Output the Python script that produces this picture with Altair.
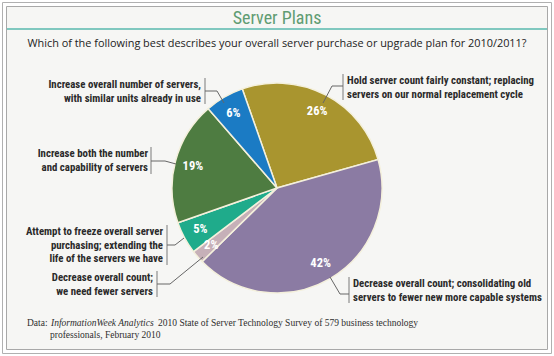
import math
import altair as alt
import pandas as pd

# ---------------- data ----------------
categories = [
    "Hold server count fairly constant; replacing\nservers on our normal replacement cycle",
    "Decrease overall count; consolidating old\nservers to fewer new more capable systems",
    "Decrease overall count;\nwe need fewer servers",
    "Attempt to freeze overall server\npurchasing; extending the\nlife of the servers we have",
    "Increase both the number\nand capability of servers",
    "Increase overall number of servers,\nwith similar units already in use",
]
shares = [26, 42, 2, 5, 19, 6]
pct_labels = ["26%", "42%", "2%", "5%", "19%", "6%"]
slice_colors = ["#a9952f", "#8b7ba3", "#c6b0b8", "#1fab8b", "#4e7c41", "#1b7bc4"]

title_text = "Server Plans"
subtitle_text = "Which of the following best describes your overall server purchase or upgrade plan for 2010/2011?"
source_prefix = "Data:"
source_italic = "InformationWeek Analytics"
source_rest = "2010 State of Server Technology Survey of 579 business technology"
source_line2 = "professionals, February 2010"

# ---------------- layout (annotation positions, not data) ----------------
W, H = 554, 356
CX, CY, R = 277, 188, 105
START = -math.radians(19.3)
FONT_NARROW = "Roboto Condensed, Open Sans Condensed, sans-serif"

# label block: side, text x, first-line y, bar x, bar y0, bar y1, leader points
label_layout = [
    ("left_align", 347, 81, 343, 74, 100, [(343, 86), (332, 86), (323, 103)]),
    ("left_align", 353, 284, 349, 277, 303, [(349, 294), (340, 294), (330, 277)]),
    ("right_align", 153, 278, 157, 271, 297, [(157, 284), (170, 284), (203, 257)]),
    ("right_align", 163, 232, 167, 225, 265, [(167, 245), (175, 245), (184, 238)]),
    ("right_align", 148, 154, 151, 147, 174, [(151, 161), (165, 161), (176, 164)]),
    ("right_align", 201, 85, 205, 78, 104, [(205, 91), (217, 91), (224, 103)]),
]

XS = alt.Scale(domain=[0, W], range=[0, W])
YS = alt.Scale(domain=[0, H], range=[0, H])


def X(f):
    return alt.X(f, type="quantitative", scale=XS, axis=None)


def Y(f):
    return alt.Y(f, type="quantitative", scale=YS, axis=None)


# ---------------- pie ----------------
pie_df = pd.DataFrame({
    "key": [f"k{i}" for i in range(len(shares))],
    "idx": list(range(len(shares))),
    "share": shares,
    "pct": pct_labels,
})
theta_enc = alt.Theta("share:Q", stack=True,
                      scale=alt.Scale(range=[START, START + 2 * math.pi]))

arcs = alt.Chart(pie_df).mark_arc(radius=R, stroke="#f4f0dc", strokeWidth=1.5).encode(
    theta=theta_enc,
    color=alt.Color("key:N", scale=alt.Scale(domain=list(pie_df["key"]), range=slice_colors), legend=None),
    order=alt.Order("idx:Q"),
    x=alt.value(CX), y=alt.value(CY),
)
pcts = alt.Chart(pie_df).mark_text(radius=87, font=FONT_NARROW, fontSize=12.5, fontWeight="bold",
                                   color="#ffffff").encode(
    theta=theta_enc,
    text="pct:N",
    order=alt.Order("idx:Q"),
    x=alt.value(CX), y=alt.value(CY),
)

# ---------------- frame ----------------
frame_df = pd.DataFrame({"x": [2.5, 6.5], "x2": [551.5, 547.5], "y": [2.5, 6.5], "y2": [353.5, 349.5]})
bg = alt.Chart(frame_df.iloc[[1]]).mark_rect(fill="#f6f6f4", stroke="#a8a8a8", strokeWidth=1).encode(
    x=X("x"), x2="x2", y=Y("y"), y2="y2")
outer = alt.Chart(frame_df.iloc[[0]]).mark_rect(fill="#ffffff", fillOpacity=0, stroke="#b0b0b0",
                                                strokeWidth=1).encode(
    x=X("x"), x2="x2", y=Y("y"), y2="y2")

rule_df = pd.DataFrame({"x": [7], "x2": [547], "y": [29]})
teal_rule = alt.Chart(rule_df).mark_rule(color="#80c8bf", strokeWidth=2).encode(
    x=X("x"), x2="x2", y=Y("y"))

# ---------------- titles ----------------
title_df = pd.DataFrame({"x": [W / 2], "y": [24], "t": [title_text]})
title = alt.Chart(title_df).mark_text(font=FONT_NARROW, fontSize=18, color="#5f9c72",
                                      align="center", baseline="alphabetic").encode(
    x=X("x"), y=Y("y"), text="t:N")
sub_df = pd.DataFrame({"x": [W / 2], "y": [47], "t": [subtitle_text]})
subtitle = alt.Chart(sub_df).mark_text(font="Open Sans, sans-serif", fontSize=10.9, color="#222222",
                                       align="center", baseline="alphabetic").encode(
    x=X("x"), y=Y("y"), text="t:N")

# ---------------- category labels ----------------
lab_rows, bar_rows, lead_rows = [], [], []
for i, (side, tx, ty, bx, by0, by1, pts) in enumerate(label_layout):
    lab_rows.append({"side": side, "x": tx, "y": ty, "t": categories[i]})
    bar_rows.append({"x": bx, "y": by0, "y2": by1})
    for j, (px, py) in enumerate(pts):
        lead_rows.append({"g": i, "o": j, "x": px, "y": py})
lab_df = pd.DataFrame(lab_rows)
bar_df = pd.DataFrame(bar_rows)
lead_df = pd.DataFrame(lead_rows)

LBL = dict(font=FONT_NARROW, fontSize=10.8, fontWeight="bold", color="#2a2a2a",
           baseline="middle", lineBreak="\n", lineHeight=13.5)
lab_left = alt.Chart(lab_df[lab_df.side == "left_align"]).mark_text(align="left", **LBL).encode(
    x=X("x"), y=Y("y"), text="t:N")
lab_right = alt.Chart(lab_df[lab_df.side == "right_align"]).mark_text(align="right", **LBL).encode(
    x=X("x"), y=Y("y"), text="t:N")
bars = alt.Chart(bar_df).mark_rule(color="#7a7a7a", strokeWidth=1).encode(
    x=X("x"), y=Y("y"), y2="y2")
leaders = alt.Chart(lead_df).mark_line(color="#666666", strokeWidth=1).encode(
    x=X("x"), y=Y("y"), detail="g:N", order="o:Q")

# ---------------- source ----------------
src_df = pd.DataFrame({
    "x": [27, 51, 158, 50],
    "y": [326, 326, 326, 338],
    "t": [source_prefix, source_italic, source_rest, source_line2],
    "style": ["normal", "italic", "normal", "normal"],
})
SRC = dict(font="Liberation Serif, serif", fontSize=9.5, color="#2e2e2e", align="left",
           baseline="alphabetic")
src_norm = alt.Chart(src_df[src_df["style"] == "normal"]).mark_text(**SRC).encode(
    x=X("x"), y=Y("y"), text="t:N")
src_it = alt.Chart(src_df[src_df["style"] == "italic"]).mark_text(fontStyle="italic", **SRC).encode(
    x=X("x"), y=Y("y"), text="t:N")

chart = alt.layer(
    outer, bg, teal_rule, title, subtitle, arcs, pcts, bars, leaders, lab_left, lab_right,
    src_norm, src_it,
).properties(
    width=W, height=H, padding=0, autosize=alt.AutoSizeParams(type="none"),
    background="#ffffff",
).configure_view(stroke=None)

chart.save("out.html", embed_options={"renderer": "svg", "actions": False})
